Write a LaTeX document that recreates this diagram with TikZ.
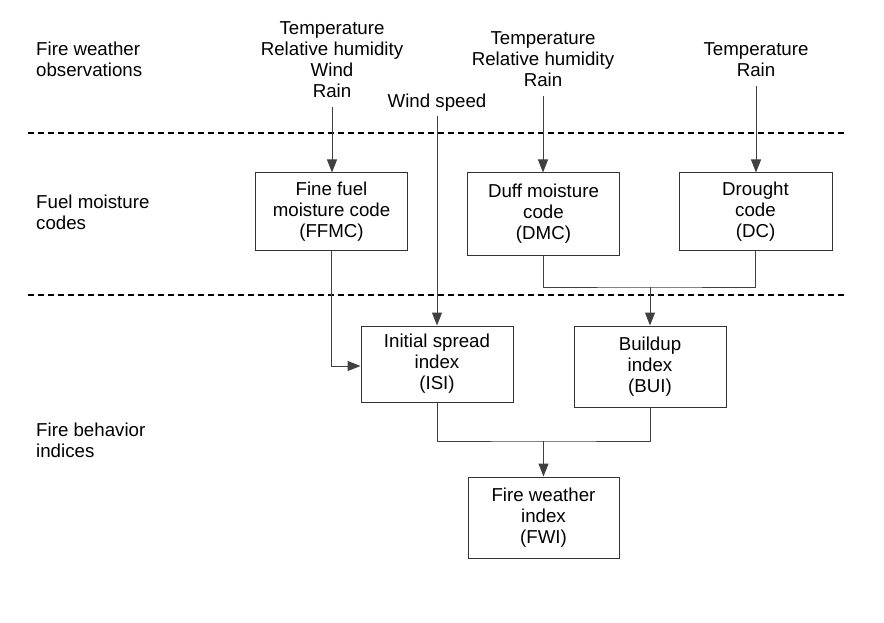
\documentclass[tikz,border=0pt]{standalone}
\usepackage{fontspec}
\setmainfont{Liberation Sans}
\usetikzlibrary{arrows.meta}
\begin{document}
\begin{tikzpicture}[x=1pt,y=-1pt,
  txt/.style={font=\fontsize{18.7}{21}\selectfont, inner sep=0pt, align=center},
  lbl/.style={font=\fontsize{18.7}{21}\selectfont, inner sep=0pt, align=left, anchor=north west},
  codebox/.style={draw=black!80, line width=1pt, font=\fontsize{18.7}{21}\selectfont, align=center, inner sep=0pt, minimum width=152pt},
  conn/.style={draw=black!75, line width=1pt},
  arr/.style={conn, -{Triangle[length=13pt,width=10pt]}},
  sep/.style={draw=black, line width=2.8pt, dash pattern=on 6pt off 4pt}
]
\useasboundingbox (0,0) rectangle (884,623);

% section labels
\node[lbl] (l1) at (36,41.6) {Fire weather\\observations};
\node[lbl] (l2) at (36,194.6) {Fuel moisture\\codes};
\node[lbl] (l3) at (36,422.6) {Fire behavior\\indices};

% separators
\coordinate (s1a) at (28,133); \coordinate (s1b) at (847,133);
\coordinate (s2a) at (28,295); \coordinate (s2b) at (847,295);
\draw[sep] (s1a) -- (s1b);
\draw[sep] (s2a) -- (s2b);

% observations
\node[txt, anchor=north] (obsA) at (332,21.6) {Temperature\\Relative humidity\\Wind\\Rain};
\node[txt, anchor=base] (wind) at (437,108) {Wind speed};
\node[txt, anchor=north] (obsB) at (543,31.6) {Temperature\\Relative humidity\\Rain};
\node[txt, anchor=north] (obsC) at (756,42.6) {Temperature\\Rain};

% boxes
\node[codebox, minimum height=77pt] (ffmc) at (331.5,211.5) {Fine fuel\\moisture code\\(FFMC)};
\node[codebox, minimum height=82pt] (dmc) at (543.5,214) {Duff moisture\\code\\(DMC)};
\node[codebox, minimum height=77pt, minimum width=153pt] (dc) at (755.5,211.5) {Drought\\code\\(DC)};
\node[codebox, minimum height=76pt] (isi) at (437,364) {Initial spread\\index\\(ISI)};
\node[codebox, minimum height=81pt] (bui) at (650,366.5) {Buildup\\index\\(BUI)};
\node[codebox, minimum height=81pt, minimum width=151pt] (fwi) at (543.5,517.5) {Fire weather\\index\\(FWI)};

% connectors
\draw[arr, shorten <=9pt] (obsA.south) -- (obsA.south |- ffmc.north);
\draw[arr, shorten <=4pt] (wind.south) -- (wind.south |- isi.north);
\draw[arr, shorten <=9pt] (obsB.south) -- (obsB.south |- dmc.north);
\draw[arr, shorten <=9pt] (obsC.south) -- (obsC.south |- dc.north);
\draw[arr] (ffmc.south) |- ([yshift=-2pt]isi.west);
\coordinate (j1) at (bui.north |- 0,287);
\draw[conn] (dmc.south) |- (j1) -| (dc.south);
\draw[arr] (j1) -- (bui.north);
\coordinate (j2) at (fwi.north |- 0,441);
\draw[conn] (isi.south) |- (j2) -| (bui.south);
\draw[arr] (j2) -- (fwi.north);
\end{tikzpicture}
\end{document}
